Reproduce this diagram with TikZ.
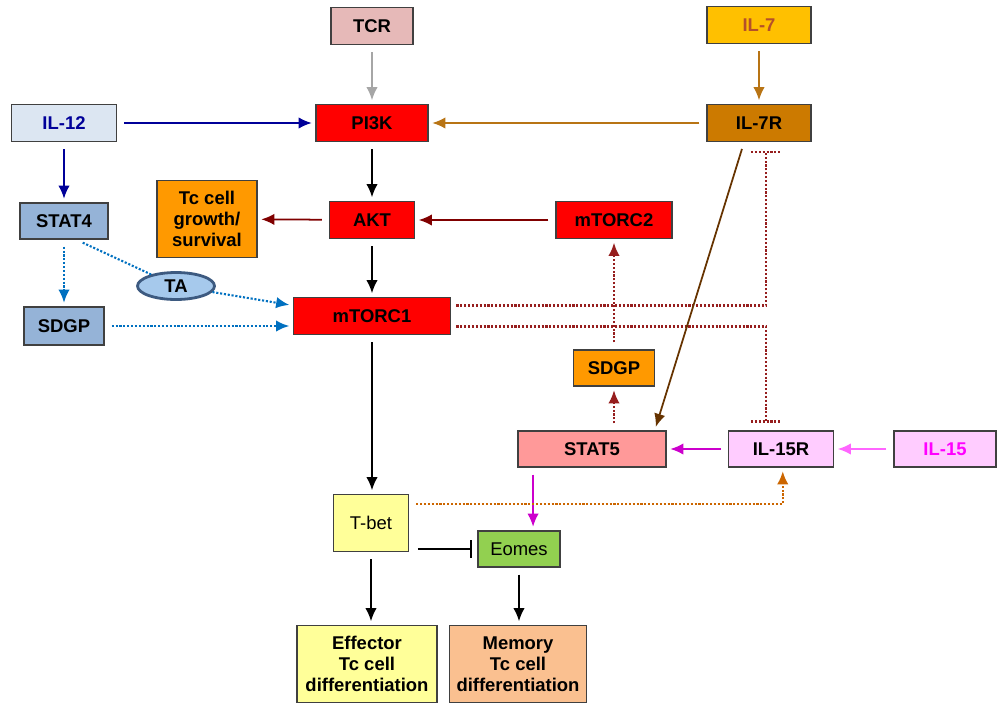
\documentclass[tikz,border=0pt]{standalone}
\usepackage{fontspec}
\setmainfont{Liberation Sans}
\usetikzlibrary{arrows.meta, calc, shapes.geometric}
\definecolor{tcrpink}{RGB}{230, 185, 184}
\definecolor{ilgold}{RGB}{255, 192, 0}
\definecolor{iltext}{RGB}{180, 80, 42}
\definecolor{ilpale}{RGB}{220, 230, 242}
\definecolor{ilnavy}{RGB}{0, 0, 153}
\definecolor{ilbrown}{RGB}{204, 122, 0}
\definecolor{statblue}{RGB}{149, 179, 215}
\definecolor{boxorange}{RGB}{255, 153, 0}
\definecolor{tafill}{RGB}{166, 201, 236}
\definecolor{taedge}{RGB}{61, 90, 128}
\definecolor{statpink}{RGB}{255, 153, 153}
\definecolor{ilpink}{RGB}{255, 204, 255}
\definecolor{ilmagenta}{RGB}{255, 0, 255}
\definecolor{tbetyellow}{RGB}{255, 255, 153}
\definecolor{eomesgreen}{RGB}{146, 208, 80}
\definecolor{memorypeach}{RGB}{250, 192, 144}
\definecolor{lineorange}{RGB}{184, 116, 20}
\definecolor{linered}{RGB}{128, 0, 0}
\definecolor{lineblue}{RGB}{0, 112, 192}
\definecolor{linebrown}{RGB}{102, 51, 0}
\definecolor{linedot}{RGB}{150, 30, 30}
\definecolor{linemag}{RGB}{204, 0, 204}
\definecolor{linepink}{RGB}{255, 102, 255}
\definecolor{linetbet}{RGB}{204, 102, 0}

\begin{document}
\begin{tikzpicture}[
    x=0.2mm, y=-0.2mm,
    box/.style={rectangle, draw=black!75, line width=0.8pt, inner sep=0pt, align=center, font=\fontsize{10.5}{12}\selectfont\bfseries},
    plain/.style={rectangle, draw=black!75, line width=0.8pt, inner sep=0pt, align=center, font=\fontsize{10.5}{12}\selectfont},
    arrow/.style={line width=1pt, -{Latex[length=7.5pt, width=6.5pt]}, shorten >=2pt, shorten <=4pt},
    dots/.style={line width=1.2pt, dash pattern=on 1.2pt off 1pt}
]
\useasboundingbox (0,0) rectangle (997,705);

% Inputs
\node[box, fill=tcrpink, minimum width=16.4mm, minimum height=7.4mm] (tcr) at (372,26) {TCR};
\node[box, fill=ilgold, text=iltext, minimum width=20.8mm, minimum height=7.4mm] (il7) at (759,25) {IL-7};
\node[box, fill=ilpale, text=ilnavy, minimum width=21mm, minimum height=7.4mm] (il12) at (64,123) {IL-12};

% Signalling
\node[box, fill=red, minimum width=22.4mm, minimum height=7.4mm] (pi3k) at (372,123) {PI3K};
\node[box, fill=ilbrown, minimum width=20.8mm, minimum height=7.4mm] (il7r) at (759,123) {IL-7R};
\node[box, fill=statblue, minimum width=17.6mm, minimum height=7.2mm] (stat4) at (64,221) {STAT4};
\node[box, fill=boxorange, minimum width=20mm, minimum height=15.4mm] (growth) at (207,219) {Tc cell\\growth/\\survival};
\node[box, fill=red, minimum width=17mm, minimum height=7.4mm] (akt) at (372,220) {AKT};
\node[box, fill=red, minimum width=23.2mm, minimum height=7.4mm] (mtorc2) at (614,220) {mTORC2};
\node[ellipse, draw=taedge, line width=1.6pt, fill=tafill, inner sep=0pt, minimum width=15.4mm, minimum height=5.4mm, font=\fontsize{10.5}{12}\selectfont\bfseries] (ta) at (176,286) {TA};
\node[box, fill=statblue, minimum width=16mm, minimum height=7.6mm] (sdgpL) at (64,326) {SDGP};
\node[box, fill=red, minimum width=31.4mm, minimum height=7.4mm] (mtorc1) at (372,316) {mTORC1};
\node[box, fill=boxorange, minimum width=16.2mm, minimum height=7.2mm] (sdgpR) at (614,368) {SDGP};
\node[box, fill=statpink, minimum width=29.6mm, minimum height=7.2mm] (stat5) at (592,449) {STAT5};
\node[box, fill=ilpink, minimum width=21mm, minimum height=7.2mm] (il15r) at (781,449) {IL-15R};
\node[box, fill=ilpink, text=ilmagenta, minimum width=20.4mm, minimum height=7.2mm] (il15) at (945,449) {IL-15};

% Transcription factors
\node[plain, fill=tbetyellow, minimum width=15mm, minimum height=11.4mm] (tbet) at (371,523) {T-bet};
\node[plain, fill=eomesgreen, minimum width=16.4mm, minimum height=7.2mm] (eomes) at (519,549) {Eomes};

% Outcomes
\node[box, fill=tbetyellow, minimum width=28mm, minimum height=15.4mm] (effector) at (367,664) {Effector\\Tc cell\\differentiation};
\node[box, fill=memorypeach, minimum width=27.4mm, minimum height=15.4mm] (memory) at (518,664) {Memory\\Tc cell\\differentiation};

% Inhibition ends
\coordinate (barA) at ([xshift=4pt, yshift=-5.6pt]il7r.south);
\coordinate (barB) at ([xshift=-8.5pt, yshift=5pt]il15r.north);

% Arrows
\draw[arrow, black!35] (tcr) -- (pi3k);
\draw[arrow, lineorange] (il7) -- (il7r);
\draw[arrow, ilnavy] (il12) -- (pi3k);
\draw[arrow, lineorange] (il7r) -- (pi3k);
\draw[arrow, ilnavy] (il12) -- (stat4);
\draw[arrow] (pi3k) -- (akt);
\draw[arrow, linered] (akt) -- (growth);
\draw[arrow, linered] (mtorc2) -- (akt);
\draw[arrow] (akt) -- (mtorc1);
\draw[arrow] (mtorc1) -- (mtorc1 |- tbet.north);
\draw[arrow] (tbet) -- (tbet |- effector.north);
\draw[arrow] (eomes) -- (eomes |- memory.north);

% STAT4 branch
\draw[arrow, dots, lineblue] (stat4) -- (sdgpL);
\draw[dots, lineblue, shorten <=4pt] ([xshift=7pt]stat4.south) -- (ta);
\draw[arrow, dots, lineblue, shorten <=0pt] (ta) -- ([yshift=6pt]mtorc1.west);
\draw[arrow, dots, lineblue] (sdgpL.east) -- (sdgpL.east -| mtorc1.west);

% mTORC1 inhibits the receptors
\draw[dots, linedot, shorten <=3pt] ([yshift=6pt]mtorc1.east) -| (barA);
\draw[dots, linedot] ([xshift=-8.5pt]barA) -- ([xshift=8.5pt]barA);
\draw[dots, linedot, shorten <=3pt] ([yshift=-6pt]mtorc1.east) -| (barB);
\draw[dots, linedot] ([xshift=-8.5pt]barB) -- ([xshift=8.5pt]barB);

% STAT5 branch
\draw[arrow, linebrown] ([xshift=-8.5pt]il7r.south) -- ([xshift=35.7pt]stat5.north);
\draw[arrow, dots, linedot] (sdgpR) -- (mtorc2);
\draw[arrow, dots, linedot] (stat5.north -| sdgpR) -- (sdgpR);
\draw[arrow, linemag] (il15r) -- (stat5);
\draw[arrow, linepink] (il15) -- (il15r);
\draw[arrow, linemag] ([xshift=8pt]eomes.north |- stat5.south) -- ([xshift=8pt]eomes.north);
\draw[arrow, dots, linetbet] ([yshift=10.8pt]tbet.east) -| ([xshift=1pt]il15r.south);
\draw[line width=1pt, -{Bar[width=10pt]}, shorten <=5pt, shorten >=3pt] (tbet.east |- eomes.west) -- (eomes.west);

\end{tikzpicture}
\end{document}
